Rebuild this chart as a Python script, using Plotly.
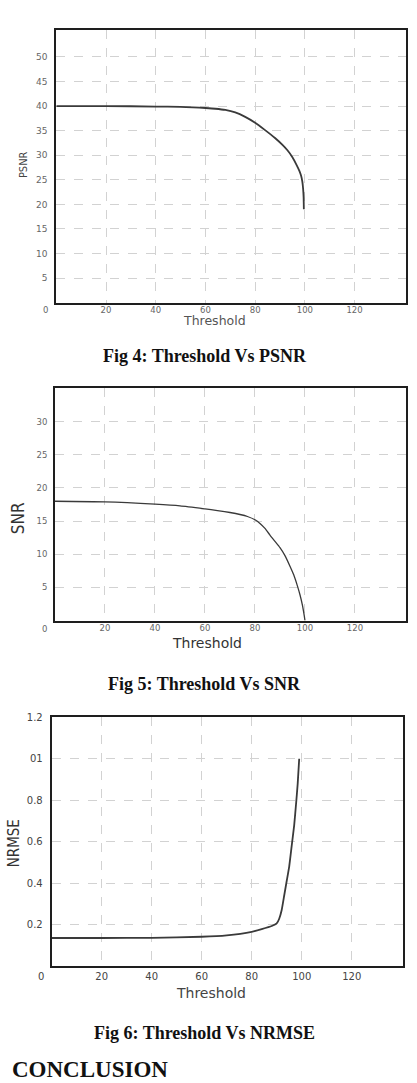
import plotly.graph_objects as go

W, H = 417, 1083

# ---------------- data ----------------
threshold_psnr = [0, 20, 40, 50, 55, 60, 64, 68, 72, 76, 80, 84, 88, 91, 93, 95, 96.7, 97.8, 98.5, 99.0, 99.3, 99.5, 99.6]
psnr = [40.0, 40.0, 39.9, 39.85, 39.75, 39.6, 39.45, 39.2, 38.7, 37.8, 36.6, 35.1, 33.5, 32.1, 31.0, 29.6, 28.0, 26.8, 25.8, 24.6, 23.2, 21.5, 19.0]

threshold_snr = [0, 20, 40, 50, 60, 65, 70, 74, 77, 80, 82, 84, 86, 88, 90, 92, 94, 95.5, 97, 98, 99, 99.6, 100]
snr = [18.0, 17.9, 17.55, 17.3, 16.85, 16.6, 16.3, 16.0, 15.7, 15.2, 14.65, 13.9, 12.9, 11.95, 11.0, 9.8, 8.2, 6.9, 5.2, 3.9, 2.3, 1.0, 0.0]

threshold_nrmse = [0, 20, 40, 60, 70, 80, 84, 88, 90, 91, 92, 93, 94, 95, 96, 97, 97.8, 98.4, 99]
nrmse = [0.135, 0.135, 0.136, 0.141, 0.148, 0.165, 0.178, 0.193, 0.205, 0.228, 0.27, 0.34, 0.41, 0.48, 0.58, 0.68, 0.79, 0.88, 1.0]

x_ticks = [20, 40, 60, 80, 100, 120]
psnr_ticks = [5, 10, 15, 20, 25, 30, 35, 40, 45, 50]
snr_ticks = [5, 10, 15, 20, 25, 30]
nrmse_ticks = [0.2, 0.4, 0.6, 0.8, 1.0, 1.2]
nrmse_tick_text = ["0.2", "0.4", "0.6", "0.8", "01", "1.2"]

captions = ["Fig 4: Threshold Vs PSNR", "Fig 5: Threshold Vs SNR", "Fig 6: Threshold Vs NRMSE"]
y_titles = ["PSNR", "SNR", "NRMSE"]


def px(x):
    return x / W


def py(y):
    return 1 - y / H


fig = go.Figure()
fig.add_trace(go.Scatter(x=threshold_psnr, y=psnr, mode="lines",
                         line=dict(color="#3a3a3a", width=1.8, shape="spline", smoothing=0.6),
                         xaxis="x", yaxis="y"))
fig.add_trace(go.Scatter(x=threshold_snr, y=snr, mode="lines",
                         line=dict(color="#3a3a3a", width=1.3, shape="spline", smoothing=0.6),
                         xaxis="x2", yaxis="y2"))
fig.add_trace(go.Scatter(x=threshold_nrmse, y=nrmse, mode="lines",
                         line=dict(color="#3a3a3a", width=1.8, shape="spline", smoothing=0.4),
                         xaxis="x3", yaxis="y3"))

frame = dict(showline=True, mirror=True, linecolor="#1e1e1e", linewidth=2,
             zeroline=False, showgrid=True, gridcolor="#d2d2d2", griddash="dash",
             gridwidth=1, fixedrange=True)


def xax(domain, rng, size, color, anchor, standoff):
    return dict(frame, domain=domain, range=rng, tickvals=x_ticks, anchor=anchor,
                ticks="", ticklabelstandoff=standoff,
                tickfont=dict(family="DejaVu Sans", size=size, color=color))


def yax(domain, rng, vals, size, color, anchor, text=None, ticklen=5):
    d = dict(frame, domain=domain, range=rng, tickvals=vals, anchor=anchor,
             ticks="outside", ticklen=ticklen, tickcolor="rgba(0,0,0,0)",
             tickfont=dict(family="DejaVu Sans", size=size, color=color))
    if text is not None:
        d["ticktext"] = text
    return d


layout = dict(
    width=W, height=H, margin=dict(l=0, r=0, t=0, b=0),
    paper_bgcolor="white", plot_bgcolor="white", showlegend=False,
    xaxis=xax([px(56.3), px(406)], [0, 140.7], 8.5, "#666", "y", -2),
    yaxis=yax([py(298.3), py(24)], [0, 55.5], psnr_ticks, 9, "#666", "x"),
    xaxis2=xax([px(55), px(405.7)], [0, 140.3], 8.5, "#666", "y2", -2),
    yaxis2=yax([py(618), py(384)], [0, 35.1], snr_ticks, 8.5, "#666", "x2", ticklen=4),
    xaxis3=xax([px(51.7), px(402.7)], [0, 140.4], 10, "#444", "y3", 0),
    yaxis3=yax([py(965.3), py(715.3)], [0, 1.2], nrmse_ticks, 10, "#444", "x3",
               text=nrmse_tick_text, ticklen=5),
)
fig.update_layout(**layout)

ann = []


def note(x, y, text, **kw):
    d = dict(x=px(x), y=py(y), xref="paper", yref="paper", text=text,
             showarrow=False, xanchor="center", yanchor="middle")
    d.update(kw)
    ann.append(d)


# origin labels
note(45, 306, "0", font=dict(family="DejaVu Sans", size=8.5, color="#666"))
note(44, 626.5, "0", font=dict(family="DejaVu Sans", size=8.5, color="#666"))
note(41, 976, "0", font=dict(family="DejaVu Sans", size=10, color="#444"))

# x axis titles
note(214, 316, "Threshold", font=dict(family="DejaVu Sans", size=12.5, color="#555"))
note(207, 640.5, "Threshold", font=dict(family="DejaVu Sans", size=14, color="#333"))
note(211, 992, "Threshold", font=dict(family="DejaVu Sans", size=14, color="#444"))

# y axis titles
narrow = "Liberation Sans Narrow, DejaVu Sans Condensed, Arial Narrow, sans-serif"
note(23, 160, y_titles[0], textangle=-90, font=dict(family=narrow, size=11, color="#444"))
note(18, 515, y_titles[1], textangle=-90, font=dict(family=narrow, size=17, color="#333"))
note(14, 842, y_titles[2], textangle=-90, font=dict(family=narrow, size=15, color="#333"))

# captions
cap_font = dict(family="Liberation Serif, Times New Roman, serif", size=18, color="#111")
note(205, 351.7, "<b>" + captions[0] + "</b>", font=cap_font)
note(204, 681.7, "<b>" + captions[1] + "</b>", font=cap_font)
note(204.3, 1033, "<b>" + captions[2] + "</b>", font=cap_font)
note(10, 1069, "<b>CONCLUSION</b>", xanchor="left",
     font=dict(family="Liberation Serif, Times New Roman, serif", size=23, color="#111"))

fig.update_layout(annotations=ann)
fig.write_html("out.html", config={"displayModeBar": False})
